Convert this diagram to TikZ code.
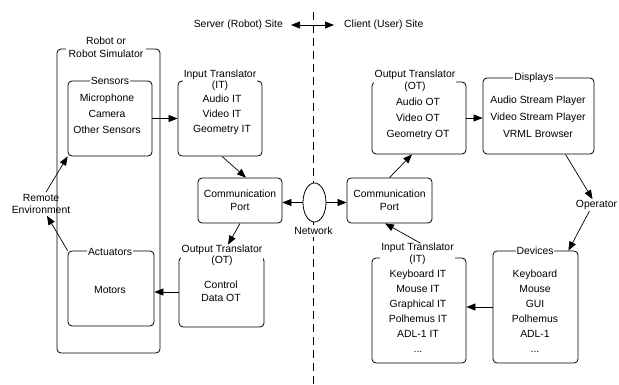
\documentclass[tikz,border=0pt]{standalone}
\usepackage{fontspec}
\setmainfont{Liberation Sans}
\usetikzlibrary{arrows.meta,shapes.geometric}
\begin{document}
\begin{tikzpicture}[x=1pt,y=-1pt,
  box/.style={draw, line width=0.8pt, rounded corners=4pt, inner sep=0pt, align=center,
    font=\fontsize{10.4}{13}\selectfont},
  lbl/.style={fill=white, inner xsep=1pt, inner ysep=0pt, align=center,
    font=\fontsize{10.4}{#1}\selectfont},
  lbl/.default=11.5,
  txt/.style={inner sep=0pt, align=center, font=\fontsize{10.4}{#1}\selectfont},
  txt/.default=15,
  plain/.style={inner sep=2pt, align=center, font=\fontsize{10.4}{#1}\selectfont},
  plain/.default=12,
  arr/.style={line width=0.7pt, -{Triangle[length=9pt,width=7pt]}},
  darr/.style={line width=0.7pt, {Triangle[length=9pt,width=7pt]}-{Triangle[length=9pt,width=7pt]}},
  sitedash/.style={line width=0.8pt, dash pattern=on 8pt off 5pt},
]
\fill[white] (0,0) rectangle (619,385);
\useasboundingbox (0,0) rectangle (619,385);

% site divider
\coordinate (dtop) at (313,12);
\coordinate (dbot) at (313,385);
\draw[sitedash] (dtop) -- (dbot);

% boxes
\node[box, minimum width=103pt, minimum height=304pt] (robot) at (108.5,201) {};
\node[box, minimum width=84pt, minimum height=75pt] (sens) at (110,118.5) {};
\node[box, minimum width=86pt, minimum height=75pt] (act) at (111,288.5) {};
\node[box, minimum width=84pt, minimum height=75pt] (itS) at (220,118.5) {};
\node[box, minimum width=84pt, minimum height=45pt] (cpL) at (240,200.5) {Communication\\Port};
\node[box, minimum width=85pt, minimum height=70pt] (otS) at (221.5,292) {};
\node[ellipse, draw, line width=0.8pt, fill=white, minimum width=23pt, minimum height=39pt, inner sep=0pt] (net) at (314.5,202.5) {};
\node[box, minimum width=85pt, minimum height=45pt] (cpR) at (389.5,200.5) {Communication\\Port};
\node[box, minimum width=94pt, minimum height=72pt] (otC) at (419,118) {};
\node[box, minimum width=111pt, minimum height=76pt] (disp) at (538.5,116) {};
\node[box, minimum width=94pt, minimum height=105pt] (itC) at (419,310.5) {};
\node[box, minimum width=85pt, minimum height=112pt] (dev) at (535.5,307) {};

% titles on box edges
\node[lbl=13, inner xsep=2.5pt] (robotL) at (106,47.5) {Robot or\\Robot Simulator};
\node[lbl] (sensL) at (110,81) {Sensors};
\node[lbl] (actL) at (110,251.5) {Actuators};
\node[lbl] (itSL) at (220,80.5) {Input Translator\\(IT)};
\node[lbl] (otSL) at (222,255.5) {Output Translator\\(OT)};
\node[lbl] (otCL) at (415,81) {Output Translator\\(OT)};
\node[lbl] (dispL) at (534,78) {Displays};
\node[lbl] (itCL) at (417.5,254) {Input Translator\\(IT)};
\node[lbl] (devL) at (535,251) {Devices};
\node[lbl, inner xsep=2pt, inner ysep=2pt] (netL) at (313.5,231) {Network};

% box contents
\node[txt=16] (sensT) at (107,114) {Microphone\\Camera\\Other Sensors};
\node[txt] (itST) at (222,115) {Audio IT\\Video IT\\Geometry IT};
\node[txt=13] (otST) at (221,291.5) {Control\\Data OT};
\node[txt] (actT) at (110,290) {Motors};
\node[txt=16] (otCT) at (418,119) {Audio OT\\Video OT\\Geometry OT};
\node[txt=17] (dispT) at (538,117) {Audio Stream Player\\Video Stream Player\\VRML Browser};
\node[txt] (devT) at (535,311.5) {Keyboard\\Mouse\\GUI\\Polhemus\\ADL-1\\...};
\node[txt] (itCT) at (418,311.5) {Keyboard IT\\Mouse IT\\Graphical IT\\Polhemus IT\\ADL-1 IT\\...};

% free labels
\node[plain] (rem) at (41,204) {Remote\\Environment};
\node[plain, inner sep=1pt] (op) at (596.5,205) {Operator};
\node[plain, anchor=east, inner sep=0pt] (srv) at (283,25) {Server (Robot) Site};
\node[plain, anchor=west, inner sep=0pt] (cli) at (344,25) {Client (User) Site};

% connectors
\draw[darr, shorten <=8pt, shorten >=10pt] (srv.east) -- (cli.west);
\draw[arr] ([xshift=5pt]rem.north) -- (sens.south west);
\draw[arr] (act.north west) -- ([xshift=6pt]rem.south);
\draw[arr] (sens.east) -- (itS.west);
\draw[arr] ([xshift=2pt]itS.south) -- ([xshift=6pt]cpL.north);
\draw[arr] (cpL.south) -- ([xshift=6pt]otSL.north);
\draw[arr] (otS.west) -- (otS.west -| act.east);
\draw[arr] (net.west) -- (net.west -| cpL.east);
\draw[arr] (net.east) -- (net.east -| cpR.west);
\draw[arr] (cpR.north) -- ([xshift=-7pt]otC.south);
\draw[arr] (otC.east) -- (otC.east -| disp.west);
\draw[arr] ([xshift=27pt]disp.south) -- ([xshift=-4pt]op.north);
\draw[arr] ([xshift=-7pt]op.south) -- ([xshift=-10pt]dev.north east);
\draw[arr] (dev.west) -- (dev.west -| itC.east);
\draw[arr] ([xshift=3pt]itCL.north) -- ([xshift=-4.5pt]cpR.south);
\end{tikzpicture}
\end{document}
